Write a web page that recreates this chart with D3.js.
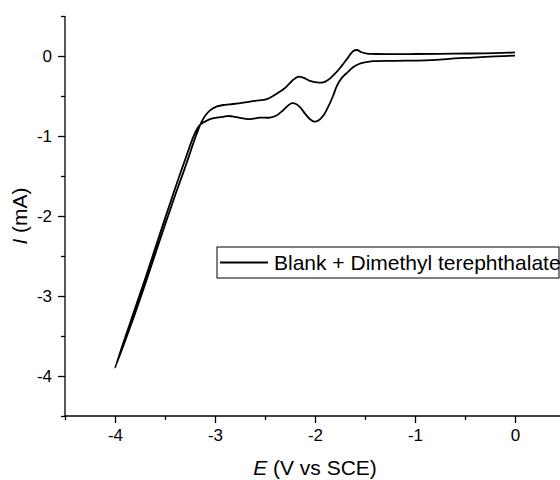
<!DOCTYPE html>
<html>
<head>
<meta charset="utf-8">
<script src="https://cdn.jsdelivr.net/npm/d3@7"></script>
<style>
  body { margin: 0; background: #fff; }
  svg text { font-family: Arial, "Liberation Sans", sans-serif; fill: #000; }
</style>
</head>
<body>
<div id="chart"></div>
<script>
// Cyclic voltammogram, blank + dimethyl terephthalate
// forward scan: 0 V -> -4 V, reverse scan: -4 V -> 0 V

const fwdE = [0, -0.2, -0.42, -0.6, -0.75, -0.9, -1.2, -1.42, -1.5, -1.56, -1.62, -1.68, -1.73, -1.78, -1.82,
  -1.87, -1.92, -1.97, -2.01, -2.05, -2.1, -2.15, -2.19, -2.23, -2.27, -2.32, -2.38, -2.45, -2.55, -2.65,
  -2.72, -2.8, -2.86, -2.92, -2.98, -3.05, -3.1, -3.15, -3.2, -3.3, -3.4, -3.55, -3.7, -3.85, -4.0];
const fwdI = [0.005, -0.005, -0.02, -0.03, -0.045, -0.055, -0.06, -0.065, -0.08, -0.1, -0.14, -0.21, -0.27, -0.37, -0.5,
  -0.64, -0.75, -0.81, -0.82, -0.79, -0.72, -0.64, -0.6, -0.59, -0.62, -0.68, -0.74, -0.77, -0.77, -0.79,
  -0.78, -0.76, -0.75, -0.76, -0.77, -0.79, -0.82, -0.86, -0.96, -1.3, -1.66, -2.22, -2.79, -3.34, -3.9];

const revE = [-4.0, -3.84, -3.69, -3.54, -3.39, -3.29, -3.2, -3.14, -3.1, -3.05, -2.98, -2.9, -2.82, -2.7, -2.6,
  -2.48, -2.38, -2.3, -2.22, -2.17, -2.12, -2.05, -1.98, -1.92, -1.87, -1.8, -1.75, -1.67, -1.62, -1.58,
  -1.54, -1.48, -1.4, -1.0, -0.6, -0.2, 0];
const revI = [-3.9, -3.36, -2.82, -2.26, -1.71, -1.36, -1.03, -0.84, -0.75, -0.68, -0.63, -0.61, -0.6, -0.58, -0.56,
  -0.54, -0.47, -0.4, -0.3, -0.26, -0.27, -0.31, -0.33, -0.33, -0.3, -0.22, -0.15, -0.02, 0.06, 0.075,
  0.05, 0.03, 0.025, 0.025, 0.03, 0.035, 0.045];

const xTicks = [-4, -3, -2, -1, 0];
const yTicks = [0, -1, -2, -3, -4];
const legendLabel = "Blank + Dimethyl terephthalate";

const width = 560, height = 480;
const margin = { top: 16, right: -5, bottom: 64, left: 65 };

const svg = d3.select("#chart").append("svg")
  .attr("width", width)
  .attr("height", height);

const x = d3.scaleLinear().domain([-4.5, 0.5]).range([margin.left, width - margin.right]);
const y = d3.scaleLinear().domain([-4.5, 0.5]).range([height - margin.bottom, margin.top]);

// minor ticks at half steps
const xMinor = d3.range(-4.5, 0.51, 0.5).filter(v => !xTicks.includes(v));
const yMinor = d3.range(-4.5, 0.51, 0.5).filter(v => !yTicks.includes(v));
const fmt = d => String(d);   // plain hyphen minus, like the original

// x axis
const gx = svg.append("g").attr("transform", `translate(0,${height - margin.bottom})`);
gx.append("g")
  .call(d3.axisBottom(x).tickValues(xMinor).tickSize(4).tickFormat(""))
  .call(g => g.select(".domain").remove());
gx.append("g")
  .call(d3.axisBottom(x).tickValues(xTicks).tickSize(7).tickPadding(6).tickFormat(fmt))
  .attr("font-size", 17)
  .call(g => g.select(".domain").attr("d", `M${x(-4.5)},0H${x(0.5)}`));
gx.selectAll("text").style("font-size", "17px");
gx.selectAll("line, path").attr("stroke", "#000").attr("stroke-width", 1.3);

// y axis
const gy = svg.append("g").attr("transform", `translate(${margin.left},0)`);
gy.append("g")
  .call(d3.axisLeft(y).tickValues(yMinor).tickSize(4).tickFormat(""))
  .call(g => g.select(".domain").remove());
gy.append("g")
  .call(d3.axisLeft(y).tickValues(yTicks).tickSize(7).tickPadding(6).tickFormat(fmt))
  .attr("font-size", 17)
  .call(g => g.select(".domain").attr("d", `M0,${y(0.5)}V${y(-4.5)}`));
gy.selectAll("text").style("font-size", "17px");
gy.selectAll("line, path").attr("stroke", "#000").attr("stroke-width", 1.3);

// axis titles
const xTitle = svg.append("text")
  .attr("x", (x(-4.5) + x(0.5)) / 2)
  .attr("y", 475)
  .attr("text-anchor", "middle")
  .style("font-size", "21px");
xTitle.append("tspan").style("font-style", "italic").text("E");
xTitle.append("tspan").text(" (V vs SCE)");

const yTitle = svg.append("text")
  .attr("transform", `translate(27,${(y(0.5) + y(-4.5)) / 2}) rotate(-90)`)
  .attr("text-anchor", "middle")
  .style("font-size", "21px");
yTitle.append("tspan").style("font-style", "italic").text("I");
yTitle.append("tspan").text(" (mA)");

// curve
const fwd = fwdE.map((e, i) => [e, fwdI[i]]);
const rev = revE.map((e, i) => [e, revI[i]]);
const line = d3.line()
  .x(d => x(d[0]))
  .y(d => y(d[1]))
  .curve(d3.curveCatmullRom.alpha(0.5));

svg.append("path")
  .datum(fwd.concat(rev.slice(1)))
  .attr("d", line)
  .attr("fill", "none")
  .attr("stroke", "#000")
  .attr("stroke-width", 1.8)
  .attr("stroke-linejoin", "round");

// legend
const lg = svg.append("g").attr("transform", "translate(217,247)");
lg.append("rect")
  .attr("width", 342).attr("height", 31)
  .attr("fill", "#fff")
  .attr("stroke", "#000")
  .attr("stroke-width", 1);
lg.append("line")
  .attr("x1", 3).attr("x2", 51)
  .attr("y1", 15.5).attr("y2", 15.5)
  .attr("stroke", "#000")
  .attr("stroke-width", 1.8);
lg.append("text")
  .attr("x", 57).attr("y", 23)
  .style("font-size", "21px")
  .text(legendLabel);
</script>
</body>
</html>
